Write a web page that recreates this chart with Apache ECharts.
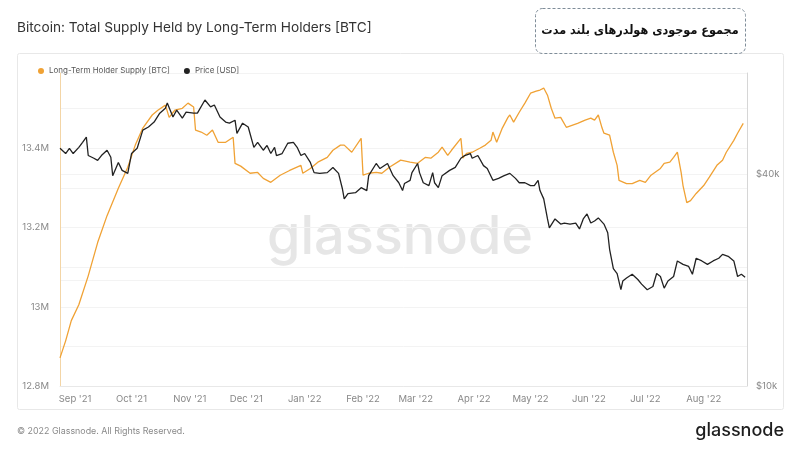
<!doctype html>
<html>
<head>
<meta charset="utf-8">
<style>
  html, body { margin: 0; padding: 0; background: #fff; }
  #main { width: 800px; height: 450px; }
</style>
</head>
<body>
<div id="main"></div>
<script src="https://cdn.jsdelivr.net/npm/echarts@6/dist/echarts.min.js"></script>
<script>
// Long-term holder supply, millions of BTC
var lthDates = [
  '2021-08-24','2021-08-27','2021-08-30',
  '2021-09-03','2021-09-08','2021-09-13','2021-09-18','2021-09-24','2021-09-29',
  '2021-10-03','2021-10-07','2021-10-12','2021-10-15','2021-10-19','2021-10-21','2021-10-24','2021-10-28','2021-10-31',
  '2021-11-03','2021-11-04','2021-11-07','2021-11-10','2021-11-13','2021-11-16','2021-11-20','2021-11-24','2021-11-25','2021-11-28',
  '2021-12-03','2021-12-07','2021-12-10','2021-12-14','2021-12-19','2021-12-24','2021-12-30','2021-12-31',
  '2022-01-04','2022-01-08','2022-01-13','2022-01-16','2022-01-20','2022-01-22','2022-01-26','2022-01-31',
  '2022-02-01','2022-02-04','2022-02-08','2022-02-11','2022-02-15','2022-02-21','2022-02-26',
  '2022-03-02','2022-03-06','2022-03-09','2022-03-13','2022-03-15','2022-03-18','2022-03-20','2022-03-25','2022-03-26','2022-03-28','2022-03-31',
  '2022-04-04','2022-04-07','2022-04-10','2022-04-11','2022-04-13','2022-04-16','2022-04-19','2022-04-20','2022-04-22','2022-04-25','2022-04-28',
  '2022-05-01','2022-05-04','2022-05-06','2022-05-08','2022-05-10','2022-05-12','2022-05-14','2022-05-17','2022-05-20','2022-05-23','2022-05-26','2022-05-30',
  '2022-06-02','2022-06-04','2022-06-06','2022-06-08','2022-06-09','2022-06-12','2022-06-14','2022-06-16','2022-06-17','2022-06-21','2022-06-24','2022-06-28',
  '2022-07-01','2022-07-04','2022-07-09','2022-07-11','2022-07-14','2022-07-16','2022-07-18','2022-07-20','2022-07-21','2022-07-23','2022-07-25','2022-07-28',
  '2022-08-01','2022-08-04','2022-08-08','2022-08-11','2022-08-13','2022-08-17','2022-08-19','2022-08-22'
];
var lthSupply = [
  12.871, 12.914, 12.965,
  13.005, 13.078, 13.162, 13.230, 13.299, 13.352,
  13.408, 13.451, 13.484, 13.496, 13.509, 13.478, 13.496, 13.501, 13.514,
  13.504, 13.446, 13.441, 13.433, 13.446, 13.415, 13.415, 13.428, 13.362, 13.355,
  13.337, 13.339, 13.324, 13.314, 13.332, 13.344, 13.357, 13.337,
  13.349, 13.365, 13.377, 13.395, 13.408, 13.408, 13.390, 13.425,
  13.332, 13.337, 13.339, 13.337, 13.352, 13.370, 13.365,
  13.362, 13.377, 13.375, 13.390, 13.403, 13.382, 13.395, 13.425, 13.375, 13.387, 13.390,
  13.400, 13.408, 13.420, 13.441, 13.415, 13.451, 13.478, 13.484, 13.466, 13.491, 13.514,
  13.539, 13.544, 13.547, 13.552, 13.534, 13.501, 13.476, 13.478, 13.453, 13.458, 13.463, 13.471,
  13.476, 13.471, 13.484, 13.451, 13.438, 13.433, 13.390, 13.357, 13.319, 13.311, 13.311, 13.319,
  13.314, 13.332, 13.349, 13.362, 13.365, 13.377, 13.390, 13.339, 13.306, 13.263, 13.268, 13.286,
  13.306, 13.327, 13.357, 13.370, 13.390, 13.420, 13.438, 13.463
];

// BTC price, USD
var priceDates = [
  '2021-08-24','2021-08-27','2021-08-29','2021-08-31',
  '2021-09-03','2021-09-05','2021-09-07','2021-09-08','2021-09-11','2021-09-13','2021-09-15','2021-09-18','2021-09-20','2021-09-21','2021-09-24','2021-09-26','2021-09-29',
  '2021-10-01','2021-10-04','2021-10-07','2021-10-10','2021-10-13','2021-10-16','2021-10-19','2021-10-20','2021-10-23','2021-10-25','2021-10-28','2021-10-30',
  '2021-11-03','2021-11-05','2021-11-09','2021-11-12','2021-11-14','2021-11-17','2021-11-20','2021-11-22','2021-11-25','2021-11-26','2021-11-29',
  '2021-12-02','2021-12-05','2021-12-07','2021-12-10','2021-12-12','2021-12-14','2021-12-16','2021-12-17','2021-12-20','2021-12-23','2021-12-26','2021-12-28','2021-12-30',
  '2022-01-01','2022-01-04','2022-01-06','2022-01-09','2022-01-13','2022-01-16','2022-01-19','2022-01-21','2022-01-22','2022-01-24','2022-01-28','2022-01-31',
  '2022-02-03','2022-02-04','2022-02-08','2022-02-10','2022-02-14','2022-02-17','2022-02-20','2022-02-22','2022-02-23','2022-02-26','2022-02-27',
  '2022-03-02','2022-03-03','2022-03-05','2022-03-08','2022-03-10','2022-03-11','2022-03-13','2022-03-15','2022-03-19','2022-03-22','2022-03-25','2022-03-27','2022-03-30','2022-03-31',
  '2022-04-03','2022-04-06','2022-04-08','2022-04-11','2022-04-14','2022-04-17','2022-04-20','2022-04-23','2022-04-25','2022-04-28',
  '2022-05-01','2022-05-03','2022-05-05','2022-05-06','2022-05-08','2022-05-10','2022-05-11','2022-05-14','2022-05-17','2022-05-19','2022-05-22','2022-05-25','2022-05-27','2022-05-29','2022-05-31',
  '2022-06-02','2022-06-04','2022-06-06','2022-06-09','2022-06-11','2022-06-12','2022-06-14','2022-06-16','2022-06-18','2022-06-19','2022-06-21','2022-06-24','2022-06-27','2022-06-29',
  '2022-07-02','2022-07-05','2022-07-07','2022-07-09','2022-07-11','2022-07-13','2022-07-16','2022-07-18','2022-07-21','2022-07-24','2022-07-26','2022-07-28','2022-07-31',
  '2022-08-03','2022-08-06','2022-08-09','2022-08-11','2022-08-14','2022-08-17','2022-08-19','2022-08-21','2022-08-23'
];
var priceUsd = [
  47500, 45900, 47500, 45900,
  47800, 49400, 51100, 45300, 44500, 43900, 45300, 46900, 44800, 39700, 43300, 41100, 40300,
  45900, 47500, 53500, 54600, 56400, 59800, 61800, 63900, 58300, 61000, 57900, 60200,
  59800, 59800, 65200, 62300, 63100, 58300, 56400, 56000, 57100, 52400, 56000,
  54600, 47800, 49400, 46900, 48400, 45900, 47800, 45300, 45900, 49100, 49400, 47800, 45300,
  45900, 43300, 40500, 40300, 40500, 41900, 40300, 36500, 34100, 35300, 35500, 36700,
  36000, 39700, 43000, 41600, 43000, 39700, 37900, 36000, 37700, 38500, 40500,
  43000, 40500, 37900, 37200, 40500, 37900, 36700, 39700, 41100, 41900, 44500, 45300, 45900, 44500,
  45300, 42400, 41600, 38500, 39000, 39700, 40300, 39000, 37900, 37900,
  37200, 37200, 38500, 36000, 34100, 29900, 28200, 29900, 28900, 29100, 28900, 29100, 28000, 29900, 30900,
  29100, 29500, 30100, 28900, 27300, 24500, 21600, 20900, 18800, 19900, 20300, 20800, 20100, 19500,
  18800, 19200, 20900, 20500, 19000, 19900, 20500, 22700, 22200, 21900, 20800, 23100, 22700,
  22200, 22700, 23100, 23700, 23400, 22700, 20500, 20800, 20400
];

var monthNames = ['Jan','Feb','Mar','Apr','May','Jun','Jul','Aug','Sep','Oct','Nov','Dec'];
var font = 'Inter';

// price axis is logarithmic: plotted as log4(price / $10k) so $10k and $40k land on ticks
function priceToAxis(p) { return Math.log(p / 10000) / Math.log(4); }

var chart = echarts.init(document.getElementById('main'));

chart.setOption({
    backgroundColor: '#fff',
    animation: false,
    title: {
        text: 'Bitcoin: Total Supply Held by Long-Term Holders [BTC]',
        left: 17,
        top: 21,
        padding: 0,
        textStyle: { fontFamily: font, fontSize: 13.7, fontWeight: 'normal', color: '#333' }
    },
    legend: {
        left: 33,
        top: 62,
        icon: 'circle',
        itemWidth: 6,
        itemHeight: 6,
        itemGap: 14,
        textStyle: { fontFamily: font, fontSize: 8, color: '#555' },
        data: ['Long-Term Holder Supply [BTC]', 'Price [USD]']
    },
    grid: { left: 60, right: 53, top: 73, bottom: 64 },
    xAxis: {
        type: 'time',
        min: '2021-08-24',
        max: '2022-08-24',
        minInterval: 28 * 86400000,
        maxInterval: 31 * 86400000,
        axisLine: { show: true, lineStyle: { color: '#e8e8e8' } },
        axisTick: { show: false },
        splitLine: { show: false },
        axisLabel: {
            color: '#888',
            fontFamily: font,
            fontSize: 9.5,
            margin: 8,
            formatter: function (v) {
                var d = new Date(v);
                return monthNames[d.getMonth()] + " '" + String(d.getFullYear()).slice(2);
            }
        }
    },
    yAxis: [{
        type: 'value',
        position: 'left',
        min: 12.8,
        max: 13.59,
        interval: 0.1,
        axisLine: { show: true, lineStyle: { color: '#f3d5a6' } },
        axisTick: { show: false },
        splitLine: { lineStyle: { color: '#f3f3f3' } },
        axisLabel: {
            color: '#888',
            fontFamily: font,
            fontSize: 9.5,
            margin: 11,
            formatter: function (v) {
                var t = Math.round(v * 10);
                if (Math.abs(v * 10 - t) > 1e-6 || t % 2) return '';
                return (t / 10) + 'M';
            }
        }
    }, {
        type: 'value',
        position: 'right',
        min: 0,
        max: 1.48,
        interval: 0.5,
        axisLine: { show: true, lineStyle: { color: '#d6d6d6' } },
        axisTick: { show: false },
        splitLine: { show: true, lineStyle: { color: '#f3f3f3' } },
        axisLabel: {
            color: '#888',
            fontFamily: font,
            fontSize: 9.5,
            margin: 9,
            formatter: function (v) {
                if (Math.abs(v - Math.round(v)) > 1e-6) return '';
                return '$' + Math.round(10 * Math.pow(4, Math.round(v))) + 'k';
            }
        }
    }],
    graphic: [
        { type: 'rect', z: -10, shape: { x: 17.5, y: 53.5, width: 766, height: 356, r: 2 },
          style: { fill: 'none', stroke: '#e8e8e8', lineWidth: 1 } },
        { type: 'text', z: -5, x: 400, y: 238,
          style: { text: 'glassnode', fill: '#e6e6e6', fontFamily: font, fontSize: 54, fontWeight: 500, align: 'center', verticalAlign: 'middle' } },
        { type: 'text', x: 17, y: 431,
          style: { text: '\u00a9 2022 Glassnode. All Rights Reserved.', fill: '#8a8a8a', fontFamily: font, fontSize: 8.9, verticalAlign: 'middle' } },
        { type: 'text', x: 784, y: 431,
          style: { text: 'glassnode', fill: '#1e1e1e', fontFamily: font, fontSize: 18, fontWeight: 500, align: 'right', verticalAlign: 'middle' } },
        { type: 'rect', shape: { x: 535.5, y: 8.5, width: 210, height: 45, r: 7 },
          style: { fill: '#fff', stroke: '#7f8d99', lineWidth: 1, lineDash: [3, 2] } },
        { type: 'text', x: 640, y: 31,
          style: { text: 'مجموع موجودی هولدرهای بلند مدت', fill: '#111', fontFamily: '"DejaVu Sans Condensed", "DejaVu Sans"', fontSize: 12.5, fontWeight: 'bold', align: 'center', verticalAlign: 'middle' } }
    ],
    series: [{
        name: 'Long-Term Holder Supply [BTC]',
        type: 'line',
        yAxisIndex: 0,
        showSymbol: false,
        color: '#f0a235',
        lineStyle: { width: 1.3 },
        data: lthDates.map(function (d, i) { return [d, lthSupply[i]]; }),
        z: 2
    }, {
        name: 'Price [USD]',
        type: 'line',
        yAxisIndex: 1,
        showSymbol: false,
        color: '#222',
        lineStyle: { width: 1.3 },
        data: priceDates.map(function (d, i) { return [d, priceToAxis(priceUsd[i])]; }),
        z: 3
    }]
});

window.onresize = chart.resize;
</script>
</body>
</html>
